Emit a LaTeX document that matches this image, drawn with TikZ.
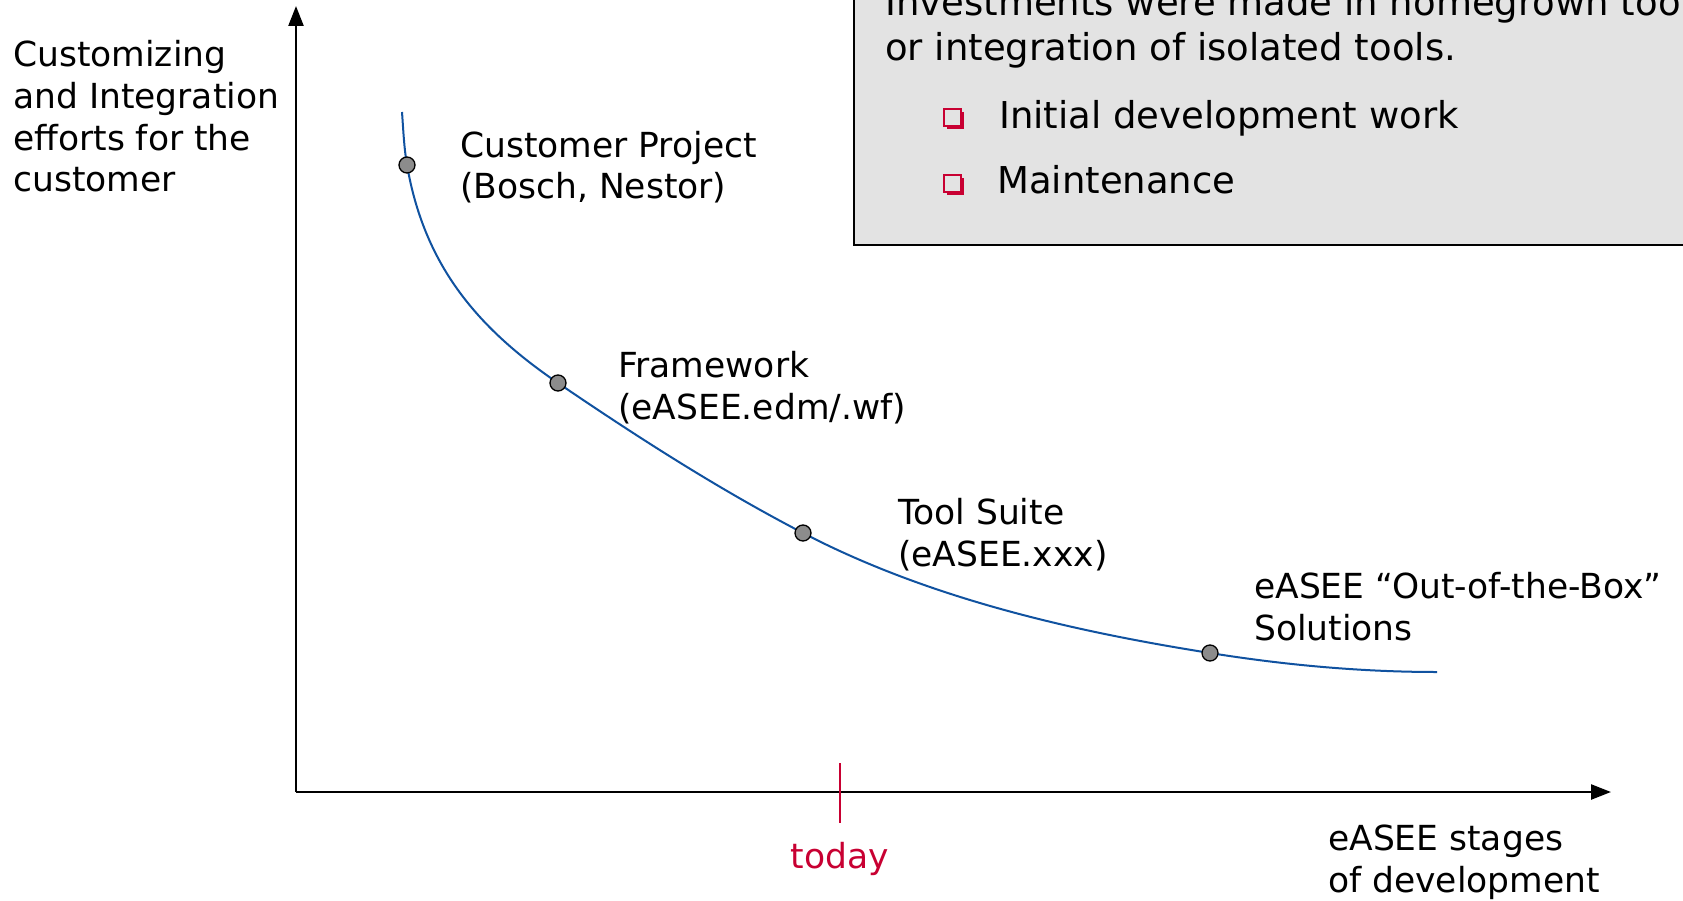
\documentclass[tikz,border=0pt]{standalone}
\usepackage{fontspec}
\setmainfont{DejaVu Sans}
\usetikzlibrary{arrows.meta,shadows}
\definecolor{curveblue}{RGB}{16,82,160}
\definecolor{bred}{RGB}{200,0,50}
\definecolor{boxgray}{RGB}{227,227,227}
\definecolor{dotgray}{RGB}{140,140,140}
\begin{document}
\begin{tikzpicture}[x=1pt,y=-1pt,
  lbl/.style={font={\fontsize{34.5}{41.7}\selectfont}, inner sep=0, anchor=base west, align=left},
  boxtxt/.style={font={\fontsize{37}{45}\selectfont}, inner sep=0, anchor=base west, align=left},
  axis/.style={line width=2.4pt, -{Triangle[length=20pt,width=15pt]}},
  dot/.style={circle, fill=dotgray, draw=black, line width=1.3pt, minimum size=16pt, inner sep=0},
  curve/.style={draw=curveblue, line width=2pt},
  bulletsq/.style={rectangle, fill=boxgray, draw=bred, line width=2pt, minimum width=17pt, minimum height=17pt, inner sep=0,
     drop shadow={shadow xshift=3pt, shadow yshift=-3pt, fill=bred, opacity=1}},
  tick/.style={draw=bred, line width=2.2pt}]
\clip (0,0) rectangle (1683,901);
\fill[white] (0,0) rectangle (1683,901);
% info box
\draw[fill=boxgray, line width=2pt] (854,-20) rectangle (1720,245);
\node[boxtxt] (bt1) at (885,61) {Investments were made in homegrown tools\\or integration of isolated tools.};
\node[bulletsq] (b1) at (952.5,118) {};
\node[bulletsq] (b2) at (952.5,184) {};
\node[boxtxt] (bi1) at (999,129) {Initial development work};
\node[boxtxt] (bi2) at (997,194) {Maintenance};
% axes
\coordinate (origin) at (296,792);
\coordinate (ytop) at (296,6);
\coordinate (xend) at (1611,792);
\draw[axis] (origin) -- (ytop);
\draw[axis] (origin) -- (xend);
% today marker
\coordinate (t1) at (840,763);
\coordinate (t2) at (840,823);
\draw[tick] (t1) -- (t2);
\node[lbl, anchor=base, text=bred] (today) at (840,868) {today};
% axis labels
\node[lbl] (ylab) at (13,192) {Customizing\\and Integration\\efforts for the\\customer};
\node[lbl] (xlab) at (1328,892) {eASEE stages\\of development};
% curve
\coordinate (c0) at (402,112);
\coordinate (c5) at (1437,672);
\draw[curve] (c0) .. controls (403.3,130) and (404,147.5) .. (407,165)
  .. controls (424,263.5) and (475.3,326.8) .. (558,383)
  .. controls (637.4,437) and (717.8,488.7) .. (803,533)
  .. controls (928,598) and (1071,631) .. (1210,653)
  .. controls (1285,665) and (1361,672) .. (c5);
% points
\node[dot] (p1) at (407,165) {};
\node[dot] (p2) at (558,383) {};
\node[dot] (p3) at (803,533) {};
\node[dot] (p4) at (1210,653) {};
% point labels
\node[lbl] (l1) at (460,199) {Customer Project\\(Bosch, Nestor)};
\node[lbl] (l2) at (618,419) {Framework\\(eASEE.edm/.wf)};
\node[lbl] (l3) at (898,566) {Tool Suite\\(eASEE.xxx)};
\node[lbl] (l4) at (1254,640) {eASEE “Out-of-the-Box”\\Solutions};
\end{tikzpicture}
\end{document}
